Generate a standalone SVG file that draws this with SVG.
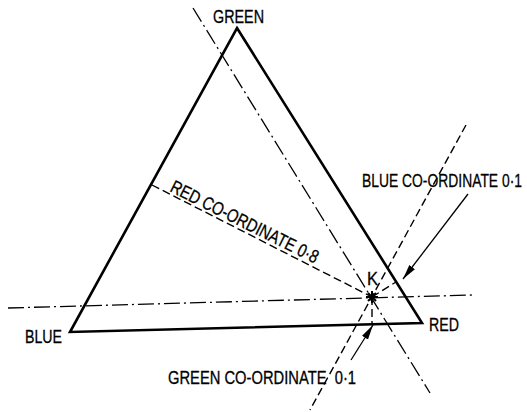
<svg xmlns="http://www.w3.org/2000/svg" width="527" height="412" viewBox="0 0 527 412">
<style>
.edge{fill:none;stroke:#000;stroke-width:2.6;stroke-linejoin:miter}
.dd{fill:none;stroke:#000;stroke-width:1.3;stroke-dasharray:16 4 2 4}
.dash{fill:none;stroke:#000;stroke-width:1.4;stroke-dasharray:8 4}
.arr{fill:none;stroke:#000;stroke-width:1.3;marker-end:url(#ah)}
text{font-family:"Liberation Sans","DejaVu Sans",sans-serif;font-size:18.5px;fill:#000;stroke:#000;stroke-width:0.3}
</style>
<defs>
<marker id="ah" markerUnits="userSpaceOnUse" markerWidth="16" markerHeight="8" refX="15" refY="4" orient="auto">
<path d="M0,0.5 L15,4 L0,7.5 Z" fill="#000"/>
</marker>
</defs>
<rect width="527" height="412" fill="#fff"/>
<g id="connectors">
<path class="dd" d="M8,308 L472,295"/>
<path class="dd" d="M193,8 L430,393"/>
<path class="dash" d="M466,125 L310,410"/>
<path class="dash" d="M152,185 L372,297"/>
<path class="dash" d="M372,297 L396,282"/>
<path class="dash" d="M372,297 L372,323"/>
<path class="arr" d="M468,194 L403,279"/>
<path class="arr" d="M351,360 L373,325"/>
</g>
<g id="triangle">
<path class="edge" d="M237,28 L422,323 L70,332 Z"/>
</g>
<g id="point-K">
<path d="M366,297 H378 M372,291 V303 M368,293 L376,301 M376,293 L368,301" stroke="#000" stroke-width="2"/>
<text x="367" y="285" font-size="14" textLength="11" lengthAdjust="spacingAndGlyphs">K</text>
</g>
<g id="label-green"><text x="213" y="23" textLength="51" lengthAdjust="spacingAndGlyphs">GREEN</text></g>
<g id="label-blue"><text x="25" y="343" textLength="37" lengthAdjust="spacingAndGlyphs">BLUE</text></g>
<g id="label-red"><text x="429" y="331" textLength="30" lengthAdjust="spacingAndGlyphs">RED</text></g>
<g id="label-blue-coord">
<text x="362" y="187" textLength="160" lengthAdjust="spacingAndGlyphs">BLUE CO-ORDINATE 0·1</text>
</g>
<g id="label-green-coord">
<text x="168" y="384" xml:space="preserve" textLength="188" lengthAdjust="spacingAndGlyphs">GREEN CO-ORDINATE  0·1</text>
</g>
<g id="label-red-coord">
<text x="169" y="191" transform="rotate(26.5 169 191)" textLength="163" lengthAdjust="spacingAndGlyphs">RED CO-ORDINATE 0·8</text>
</g>
</svg>
